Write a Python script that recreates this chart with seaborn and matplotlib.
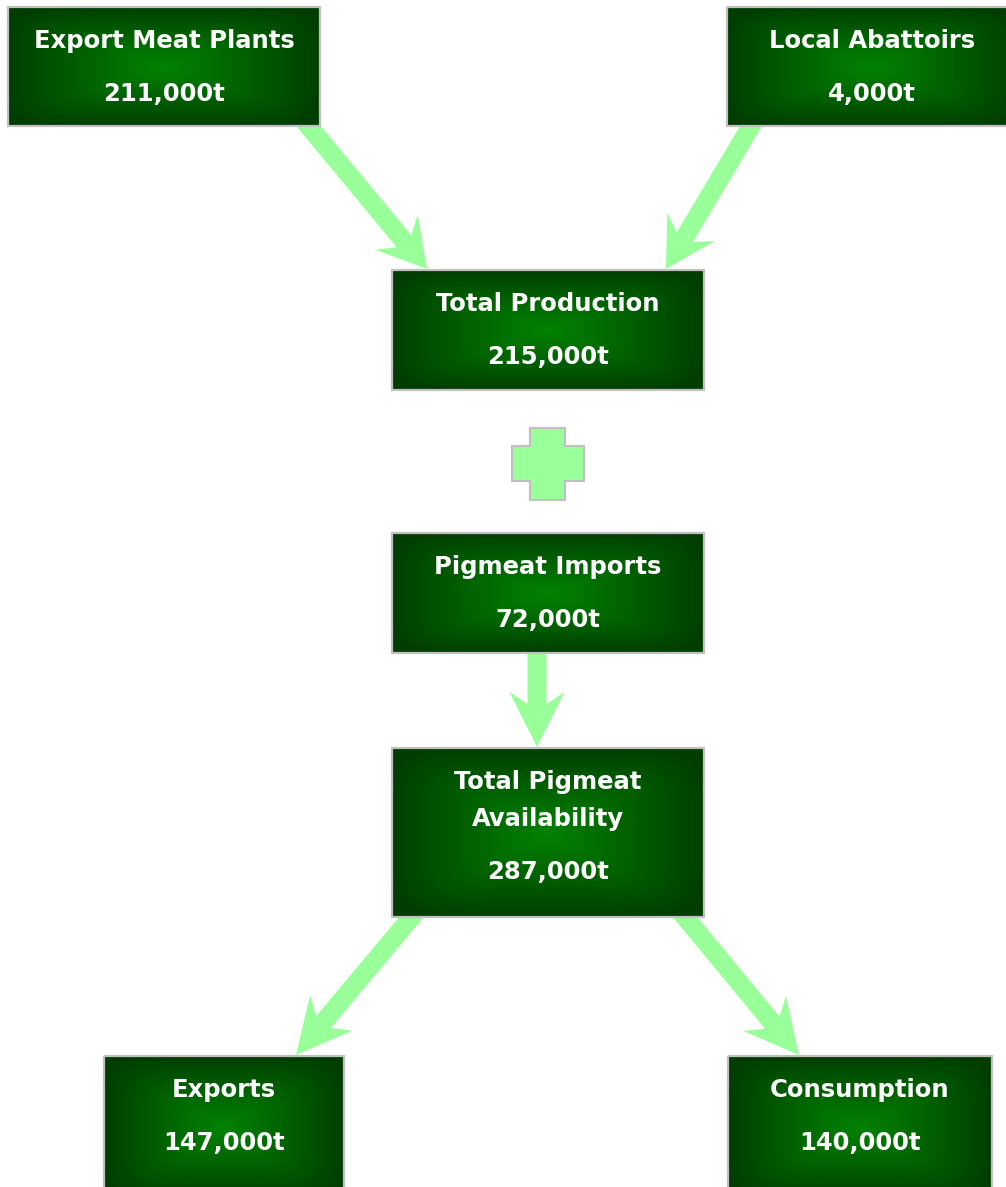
import numpy as np
import matplotlib
matplotlib.use("Agg")
import matplotlib.pyplot as plt
import seaborn as sns
from matplotlib.patches import Rectangle, Polygon

sns.set_theme(style="white")
plt.rcParams['font.family'] = ['DejaVu Sans']

# ---- data ----
node_labels = ["Export Meat Plants", "Local Abattoirs", "Total Production",
               "Pigmeat Imports", "Total Pigmeat\nAvailability", "Exports", "Consumption"]
node_values = [211000, 4000, 215000, 72000, 287000, 147000, 140000]
flow_src = [0, 1, 3, 4, 4]
flow_dst = [2, 2, 4, 5, 6]

# ---- layout (pixel space) ----
W, H = 1006, 1187
box_x0 = [8, 727, 392, 392, 392, 104, 728]
box_x1 = [320, 1017, 704, 704, 704, 344, 992]
box_y0 = [7, 7, 270, 533, 748, 1056, 1056]
box_y1 = [126, 126, 390, 653, 917, 1200, 1200]
arrow_start_x = [308.5, 751, 537, 411.5, 685]
arrow_tip_x = [427, 666, 537, 296, 799]
arrow_head_len = [48, 49, 55, 55, 54]

fig = plt.figure(figsize=(W / 100, H / 100), dpi=100)
ax = fig.add_axes([0, 0, 1, 1])
ax.set_xlim(0, W)
ax.set_ylim(H, 0)
ax.axis("off")

edge_col = np.array([0.0, 0.24, 0.0])
center_col = np.array([0.01, 0.51, 0.01])
border_col = "#c0c0c0"
arrow_col = "#99ff99"


def gradient_box(x0, y0, x1, y1):
    w, h = x1 - x0, y1 - y0
    nx, ny = int(w), int(h)
    xs = np.linspace(-1, 1, nx)
    ys = np.linspace(-1, 1, ny)
    X, Y = np.meshgrid(xs, ys)
    p = 6.0
    t = np.clip((np.abs(X) ** p + np.abs(Y) ** p) ** (1 / p), 0, 1)
    f = (1 - t) ** 0.9
    img = edge_col[None, None, :] + (center_col - edge_col)[None, None, :] * f[..., None]
    ax.imshow(img, extent=(x0, x1, y1, y0), zorder=3, interpolation="bilinear", aspect="auto")
    ax.add_patch(Rectangle((x0, y0), w, h, fill=False, edgecolor=border_col, lw=1.6, zorder=4))


def arrow(sx, sy, tx, ty, hl, shaft=19, hw=27.7):
    d = np.array([tx - sx, ty - sy], float)
    L = np.hypot(*d)
    u = d / L
    v = np.array([-u[1], u[0]])
    tip = np.array([tx, ty], float)
    start = np.array([sx, sy], float) - u * 6
    notch = hl - 12
    pts = [
        start + v * shaft / 2,
        tip - u * notch + v * shaft / 2,
        tip - u * hl + v * hw,
        tip,
        tip - u * hl - v * hw,
        tip - u * notch - v * shaft / 2,
        start - v * shaft / 2,
    ]
    ax.add_patch(Polygon(pts, closed=True, facecolor=arrow_col, edgecolor="none", zorder=2))


# arrows
for i, (s, d) in enumerate(zip(flow_src, flow_dst)):
    arrow(arrow_start_x[i], box_y1[s], arrow_tip_x[i], box_y0[d] - 1, arrow_head_len[i])

# boxes + text
for i, (lab, val) in enumerate(zip(node_labels, node_values)):
    x0, x1, y0, y1 = box_x0[i], box_x1[i], box_y0[i], box_y1[i]
    gradient_box(x0, y0, x1, y1)
    cx = (x0 + x1) / 2
    lines = lab.split("\n")
    y = y0 + 34
    for ln in lines:
        ax.text(cx, y, ln, ha="center", va="center", color="white",
                fontsize=17.5, fontweight="bold", zorder=5)
        y += 37
    ax.text(cx, y - 37 + 53, f"{val:,}t", ha="center", va="center", color="white",
            fontsize=17.5, fontweight="bold", zorder=5)

# plus sign between production and imports
pc_x, pc_y = 548, 463.5
arm_out, arm_in = 36, 17.5
plus = [(-arm_in, -arm_out), (arm_in, -arm_out), (arm_in, -arm_in), (arm_out, -arm_in),
        (arm_out, arm_in), (arm_in, arm_in), (arm_in, arm_out), (-arm_in, arm_out),
        (-arm_in, arm_in), (-arm_out, arm_in), (-arm_out, -arm_in), (-arm_in, -arm_in)]
ax.add_patch(Polygon([(pc_x + a, pc_y + b) for a, b in plus], closed=True,
                     facecolor=arrow_col, edgecolor=border_col, lw=1.5, zorder=2))

fig.savefig("out.png", dpi=100, facecolor="white")
